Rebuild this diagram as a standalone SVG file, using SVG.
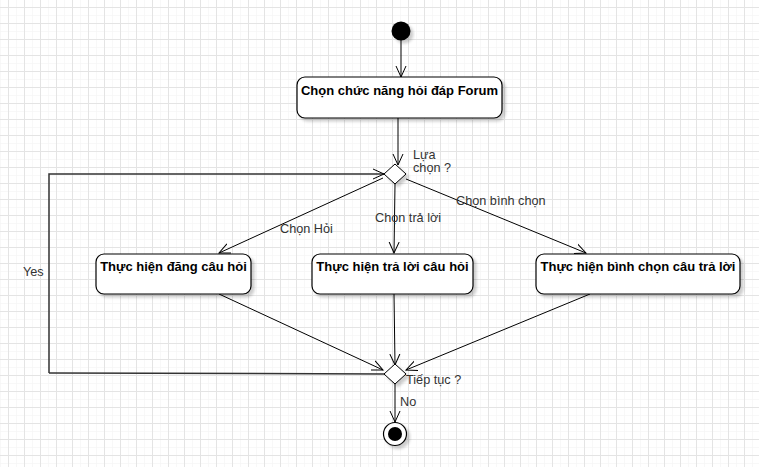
<svg xmlns="http://www.w3.org/2000/svg" width="759" height="467" viewBox="0 0 759 467">
<defs>
<pattern id="gMinor" width="8" height="8" patternUnits="userSpaceOnUse" x="0" y="-1">
<path d="M0 0H8M0 0V8" fill="none" stroke="#f2f2f2" stroke-width="1"/>
</pattern>
<pattern id="gMajor" width="16" height="16" patternUnits="userSpaceOnUse" x="8" y="7">
<path d="M0 0.5H16M0.5 0V16" fill="none" stroke="#e4e4e4" stroke-width="1"/>
</pattern>
<filter id="sh" x="-10%" y="-10%" width="130%" height="140%">
<feGaussianBlur in="SourceAlpha" stdDeviation="1.5"/>
<feOffset dx="3" dy="3" result="b"/>
<feComponentTransfer><feFuncA type="linear" slope="0.2"/></feComponentTransfer>
<feMerge><feMergeNode/><feMergeNode in="SourceGraphic"/></feMerge>
</filter>
<marker id="arr" markerWidth="12" markerHeight="12" refX="11" refY="5" orient="auto" markerUnits="userSpaceOnUse" viewBox="0 0 12 10">
<path d="M0 0L11 5L0 10" fill="none" stroke="#000" stroke-width="1"/>
</marker>
</defs>
<style>
.box{fill:#fff;stroke:#000;stroke-width:1.2;filter:url(#sh)}
.bt{font-family:"Liberation Sans",Arial,sans-serif;font-weight:bold;font-size:13px;fill:#000;text-anchor:middle}
.lb{font-family:"Liberation Sans",Arial,sans-serif;font-size:12.7px;fill:#333}
.ln{fill:none;stroke:#000;stroke-width:1}
.lp{fill:none;stroke:#333;stroke-width:1.5}
.dm{fill:#fff;stroke:#000;stroke-width:1;filter:url(#sh)}
</style>
<rect width="759" height="467" fill="#fff"/>
<rect width="759" height="467" fill="url(#gMinor)"/>
<rect width="759" height="467" fill="url(#gMajor)"/>

<g id="connectors">
<line class="ln" x1="401" y1="40" x2="401" y2="77" marker-end="url(#arr)"/>
<line class="ln" x1="398" y1="118" x2="398" y2="165" marker-end="url(#arr)"/>
<polyline class="lp" points="49,373 49,174 384,174" marker-end="url(#arr)"/>
<line class="lp" x1="49" y1="373" x2="384" y2="374"/>
<line class="ln" x1="383" y1="178" x2="219" y2="253" marker-end="url(#arr)"/>
<line class="ln" x1="395" y1="184" x2="394" y2="253" marker-end="url(#arr)"/>
<line class="ln" x1="406" y1="179" x2="586" y2="253" marker-end="url(#arr)"/>
<line class="ln" x1="219" y1="294" x2="383" y2="370" marker-end="url(#arr)"/>
<line class="ln" x1="394" y1="294" x2="395" y2="365" marker-end="url(#arr)"/>
<line class="ln" x1="590" y1="294" x2="406" y2="370" marker-end="url(#arr)"/>
<line class="ln" x1="395" y1="384" x2="395" y2="422" marker-end="url(#arr)"/>
<text class="lb" x="413" y="159">Lựa</text>
<text class="lb" x="413" y="172">chọn ?</text>
<text class="lb" x="280" y="233">Chọn Hỏi</text>
<text class="lb" x="375" y="222">Chọn trả lời</text>
<text class="lb" x="456" y="205">Chọn bình chọn</text>
<text class="lb" x="23" y="276">Yes</text>
<text class="lb" x="406" y="384">Tiếp tục ?</text>
<text class="lb" x="400" y="406">No</text>
</g>

<g id="start"><circle cx="401" cy="31" r="9.5" fill="#000" filter="url(#sh)"/></g>

<g id="n1">
<rect class="box" x="297" y="77" width="205" height="41" rx="8"/>
<text class="bt" x="399.5" y="95">Chọn chức năng hỏi đáp Forum</text>
</g>

<g id="d1"><polygon class="dm" points="395,164 406,174 395,184 384,174"/></g>

<g id="n2">
<rect class="box" x="96" y="254" width="155" height="40" rx="8"/>
<text class="bt" x="173.5" y="271">Thực hiện đăng câu hỏi</text>
</g>
<g id="n3">
<rect class="box" x="312" y="254" width="161" height="40" rx="8"/>
<text class="bt" x="392.5" y="271">Thực hiện trả lời câu hỏi</text>
</g>
<g id="n4">
<rect class="box" x="536" y="254" width="204" height="40" rx="8"/>
<text class="bt" x="638" y="271">Thực hiện bình chọn câu trả lời</text>
</g>

<g id="d2"><polygon class="dm" points="395,364 406,374 395,384 384,374"/></g>

<g id="end">
<circle cx="395" cy="434" r="11.5" fill="#fff" stroke="#000" stroke-width="1.2" filter="url(#sh)"/>
<circle cx="395" cy="434" r="7" fill="#000"/>
</g>
</svg>
